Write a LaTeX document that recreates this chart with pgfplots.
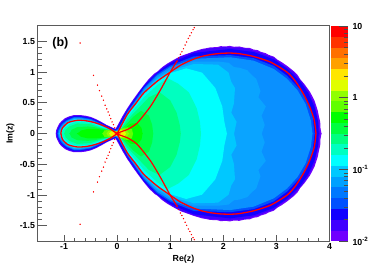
\documentclass[border=0pt]{standalone}
\usepackage{fontspec}
\setmainfont{Liberation Sans}
\usepackage{pgfplots}
\usepackage{pgfplotstable}
\pgfplotsset{compat=1.18}
\definecolor{axg}{HTML}{5A5A5A}
% upper-half outlines of the density levels (Re Im)
\pgfplotstableread[row sep=\\]{x y\\ -1.155 0\\ -1.15 .06\\ -1.12 .12\\ -1.09 .17\\ -1.05 .21\\ -.98 .26\\ -.9 .29\\ -.81 .31\\ -.7 .31\\ -.6 .3\\ -.5 .28\\ -.4 .245\\ -.3 .2\\ -.2 .15\\ -.1 .11\\ -.03 .085\\ 0 .13\\ .05 .21\\ .1 .29\\ .19 .42\\ .3 .56\\ .4 .68\\ .505 .8\\ .6 .9\\ .7 .985\\ .757 1.016\\ .85 1.09\\ .95 1.15\\ 1.07 1.21\\ 1.2 1.27\\ 1.3 1.3\\ 1.445 1.345\\ 1.6 1.385\\ 1.7 1.4\\ 1.75 1.41\\ 1.885 1.415\\ 1.95 1.43\\ 2.05 1.425\\ 2.12 1.435\\ 2.2 1.42\\ 2.3 1.425\\ 2.4 1.405\\ 2.5 1.4\\ 2.57 1.375\\ 2.65 1.365\\ 2.7 1.34\\ 2.8 1.315\\ 2.85 1.29\\ 2.95 1.26\\ 3.02 1.21\\ 3.1 1.17\\ 3.2 1.11\\ 3.26 1.07\\ 3.325 1.025\\ 3.4 .96\\ 3.45 .89\\ 3.53 .81\\ 3.58 .75\\ 3.63 .69\\ 3.68 .61\\ 3.72 .54\\ 3.75 .46\\ 3.78 .38\\ 3.8 .29\\ 3.825 .2\\ 3.83 .1\\ 3.85 0\\}\tA
\pgfplotstableread[row sep=\\]{x y\\ -1.145 0\\ -1.14 .06\\ -1.11 .115\\ -1.08 .163\\ -1.04 .203\\ -.97 .25\\ -.9 .28\\ -.81 .3\\ -.7 .3\\ -.6 .29\\ -.5 .27\\ -.4 .235\\ -.3 .19\\ -.2 .142\\ -.1 .102\\ -.03 .078\\ .005 .12\\ .055 .2\\ .105 .28\\ .195 .41\\ .305 .55\\ .405 .67\\ .51 .79\\ .605 .89\\ .705 .975\\ .765 1.005\\ .855 1.08\\ .955 1.14\\ 1.07 1.198\\ 1.2 1.26\\ 1.3 1.29\\ 1.445 1.335\\ 1.6 1.37\\ 1.75 1.395\\ 1.885 1.4\\ 2 1.415\\ 2.2 1.405\\ 2.3 1.405\\ 2.45 1.39\\ 2.57 1.355\\ 2.7 1.325\\ 2.82 1.28\\ 2.95 1.245\\ 3.05 1.17\\ 3.2 1.085\\ 3.325 1.005\\ 3.45 .875\\ 3.5 .825\\ 3.6 .7\\ 3.65 .61\\ 3.72 .49\\ 3.74 .39\\ 3.79 .21\\ 3.805 .1\\ 3.82 0\\}\tB
\pgfplotstableread[row sep=\\]{x y\\ -1.135 0\\ -1.125 .06\\ -1.095 .112\\ -1.06 .17\\ -.965 .24\\ -.81 .292\\ -.7 .292\\ -.5 .262\\ -.4 .228\\ -.3 .183\\ -.2 .136\\ -.1 .097\\ -.03 .072\\ .01 .108\\ .198 .4\\ .505 .785\\ .757 1.003\\ 1 1.15\\ 1.445 1.32\\ 2.13 1.385\\ 2.57 1.335\\ 2.95 1.215\\ 3.2 1.065\\ 3.45 .855\\ 3.6 .665\\ 3.72 .435\\ 3.785 .2\\ 3.795 0\\}\tC
\pgfplotstableread[row sep=\\]{x y\\ -1.125 0\\ -1.115 .06\\ -1.085 .11\\ -1.04 .17\\ -.955 .228\\ -.81 .28\\ -.7 .28\\ -.5 .25\\ -.4 .215\\ -.3 .17\\ -.2 .125\\ -.1 .085\\ -.03 .06\\ .02 .095\\ .2 .38\\ .505 .76\\ .757 .98\\ 1 1.115\\ 1.445 1.265\\ 2.13 1.285\\ 2.57 1.235\\ 2.95 1.11\\ 3.2 .95\\ 3.45 .72\\ 3.6 .5\\ 3.68 .3\\ 3.72 0\\}\tD
\pgfplotstableread[row sep=\\]{x y\\ -1.11 0\\ -1.1 .055\\ -1.07 .105\\ -1.03 .155\\ -.95 .215\\ -.81 .267\\ -.7 .267\\ -.5 .237\\ -.4 .2\\ -.3 .16\\ -.2 .115\\ -.1 .075\\ -.03 .05\\ .03 .085\\ .2 .36\\ .505 .735\\ .757 .955\\ 1 1.09\\ 1.445 1.225\\ 2.13 1.25\\ 2.57 1.195\\ 2.95 1.06\\ 3.2 .9\\ 3.4 .71\\ 3.55 .49\\ 3.65 .22\\ 3.68 0\\}\tE
\pgfplotstableread[row sep=\\]{x y\\ -1.1 0\\ -1.09 .053\\ -1.06 .1\\ -1.02 .145\\ -.95 .205\\ -.81 .257\\ -.7 .257\\ -.5 .227\\ -.4 .19\\ -.3 .15\\ -.2 .105\\ -.1 .066\\ -.03 .042\\ .035 .07\\ .2 .345\\ .505 .71\\ .757 .925\\ 1 1.055\\ 1.445 1.18\\ 1.9 1.18\\ 2.1 1.16\\ 2.2 1.09\\ 2.3 1.08\\ 2.45 1.04\\ 2.55 .95\\ 2.62 .9\\ 2.7 .7\\ 2.66 .6\\ 2.8 .45\\ 2.72 .3\\ 2.78 .15\\ 2.72 0\\}\tEa
\pgfplotstableread[row sep=\\]{x y\\ -1.09 0\\ -1.08 .05\\ -1.05 .095\\ -1.01 .14\\ -.95 .195\\ -.81 .247\\ -.7 .247\\ -.5 .217\\ -.4 .18\\ -.3 .14\\ -.2 .097\\ -.1 .06\\ -.03 .036\\ .04 .06\\ .19 .33\\ .505 .695\\ .757 .905\\ 1 1.03\\ 1.445 1.14\\ 1.9 1.13\\ 2.1 1\\ 2.15 .85\\ 2.22 .75\\ 2.2 .5\\ 2.15 .35\\ 2.25 .2\\ 2.2 0\\}\tF
\pgfplotstableread[row sep=\\]{x y\\ -1.08 0\\ -1.07 .045\\ -1.04 .09\\ -1 .13\\ -.95 .18\\ -.81 .235\\ -.7 .235\\ -.5 .207\\ -.4 .17\\ -.3 .13\\ -.2 .09\\ -.1 .055\\ -.03 .03\\ .04 .05\\ .19 .31\\ .505 .67\\ .757 .86\\ 1 .99\\ 1.3 1.07\\ 1.6 1\\ 1.85 .75\\ 1.98 .45\\ 2.02 .2\\ 2.07 0\\}\tG
\pgfplotstableread[row sep=\\]{x y\\ -1.05 0\\ -1.03 .05\\ -.98 .105\\ -.9 .16\\ -.75 .205\\ -.5 .185\\ -.4 .15\\ -.3 .115\\ -.2 .085\\ -.1 .052\\ -.03 .03\\ .05 .05\\ .19 .27\\ .505 .6\\ .757 .8\\ .95 .91\\ 1.15 .82\\ 1.35 .68\\ 1.5 .42\\ 1.56 .2\\ 1.58 0\\}\tH
\pgfplotstableread[row sep=\\]{x y\\ -1 0\\ -.97 .07\\ -.9 .125\\ -.75 .175\\ -.5 .16\\ -.4 .13\\ -.3 .105\\ -.2 .08\\ -.1 .05\\ -.03 .03\\ .05 .05\\ .19 .23\\ .4 .42\\ .6 .6\\ .8 .68\\ 1 .55\\ 1.12 .35\\ 1.18 .15\\ 1.2 0\\}\tI
\pgfplotstableread[row sep=\\]{x y\\ -.9 0\\ -.86 .07\\ -.75 .115\\ -.55 .125\\ -.4 .11\\ -.3 .09\\ -.2 .075\\ -.1 .05\\ -.03 .03\\ .05 .045\\ .15 .14\\ .3 .28\\ .45 .38\\ .6 .3\\ .66 .15\\ .68 0\\}\tJ
\pgfplotstableread[row sep=\\]{x y\\ -.76 0\\ -.68 .06\\ -.55 .085\\ -.4 .085\\ -.25 .07\\ -.1 .05\\ -.03 .03\\ .05 .04\\ .12 .08\\ .25 .17\\ .38 .18\\ .46 .1\\ .48 0\\}\tK
\pgfplotstableread[row sep=\\]{x y\\ -.28 0\\ -.24 .06\\ -.15 .07\\ -.05 .05\\ 0 .04\\ .1 .1\\ .2 .11\\ .28 .08\\ .3 0\\}\tL
\pgfplotstableread[row sep=\\]{x y\\ -.2 0\\ -.17 .05\\ -.08 .055\\ 0 .04\\ .08 .08\\ .17 .07\\ .23 0\\}\tM
\pgfplotstableread[row sep=\\]{x y\\ -.15 0\\ -.12 .045\\ -.05 .045\\ 0 .035\\ .07 .07\\ .14 .05\\ .17 0\\}\tN
\pgfplotstableread[row sep=\\]{x y\\ -.1 0\\ -.07 .04\\ 0 .03\\ .06 .055\\ .1 .03\\ .12 0\\}\tO
\pgfplotstableread[row sep=\\]{x y\\ -.055 0\\ -.02 .03\\ .03 .04\\ .06 .02\\ .07 0\\}\tP
\pgfplotstableread[row sep=\\]{x y\\ -.04 0\\ 0 .03\\ .04 .02\\ .05 0\\}\tQ
\pgfplotstableread[row sep=\\]{x y\\ -.03 0\\ 0 .025\\ .03 .015\\ .035 0\\}\tR
\pgfplotstableread[row sep=\\]{x y\\ -.02 0\\ 0 .02\\ .02 .01\\ .02 0\\}\tS
% red curves
\pgfplotstableread[row sep=\\]{x y\\ 0 0\\ -.12 .07\\ -.246 .125\\ -.37 .165\\ -.496 .195\\ -.62 .213\\ -.746 .217\\ -.85 .2\\ -.934 .175\\ -1.03 .093\\ -1.06 .01\\ -1.03 -.093\\ -.934 -.175\\ -.85 -.2\\ -.746 -.217\\ -.62 -.213\\ -.496 -.195\\ -.37 -.165\\ -.246 -.125\\ -.12 -.07\\ 0 0\\}\redL
\pgfplotstableread[row sep=\\]{x y\\ 0 0\\ .19 .31\\ .35 .49\\ .505 .664\\ .757 .853\\ 1 1\\ 1.19 1.11\\ 1.38 1.19\\ 1.57 1.25\\ 1.76 1.285\\ 1.95 1.305\\ 2.13 1.31\\ 2.3 1.3\\ 2.57 1.255\\ 2.89 1.163\\ 3.2 1\\ 3.36 .85\\ 3.52 .63\\ 3.63 .43\\ 3.71 .228\\ 3.745 0\\ 3.71 -.228\\ 3.63 -.43\\ 3.52 -.63\\ 3.36 -.85\\ 3.2 -1\\ 2.89 -1.163\\ 2.57 -1.255\\ 2.3 -1.3\\ 2.13 -1.31\\ 1.95 -1.305\\ 1.76 -1.285\\ 1.57 -1.25\\ 1.38 -1.19\\ 1.19 -1.11\\ 1 -1\\ .757 -.853\\ .505 -.664\\ .35 -.49\\ .19 -.31\\ 0 0\\}\redR
\pgfplotstableread[row sep=\\]{x y\\ 1.13 1.18\\ 1 1\\ .82 .717\\ .63 .445\\ .38 .175\\ .2 .07\\ 0 0\\ .2 -.07\\ .38 -.175\\ .63 -.445\\ .82 -.717\\ 1 -1\\ 1.13 -1.18\\}\redI
\pgfplotstableread[row sep=\\]{x y\\ 1.13 1.18\\ 1.16 1.23\\ 1.19 1.29\\ 1.22 1.33\\ 1.25 1.38\\ 1.28 1.44\\ 1.31 1.49\\ 1.34 1.55\\ 1.37 1.59\\ 1.40 1.64\\ 1.43 1.69\\ 1.453 1.724\\ 1.13 -1.18\\ 1.16 -1.23\\ 1.19 -1.29\\ 1.22 -1.33\\ 1.25 -1.38\\ 1.28 -1.44\\ 1.31 -1.49\\ 1.34 -1.55\\ 1.37 -1.59\\ 1.40 -1.64\\ 1.43 -1.69\\ 1.453 -1.724\\ -.697 1.473\\ -.445 .946\\ -.37 .788\\ -.333 .70\\ -.29 .609\\ -.258 .544\\ -.227 .462\\ -.195 .402\\ -.17 .353\\ -.145 .30\\ -.12 .245\\ -.096 .19\\ -.07 .147\\ -.045 .093\\ -.697 -1.473\\ -.445 -.946\\ -.37 -.788\\ -.333 -.70\\ -.29 -.609\\ -.258 -.544\\ -.227 -.462\\ -.195 -.402\\ -.17 -.353\\ -.145 -.30\\ -.12 -.245\\ -.096 -.19\\ -.07 -.147\\ -.045 -.093\\}\redD
\newcommand\band[2]{%
 \addplot[fill=#1,draw=none,forget plot] table[x=x,y expr=\thisrow{y}-.008] {#2};
 \addplot[fill=#1,draw=none,forget plot] table[x=x,y expr=-\thisrow{y}+.008] {#2};
}
\newcommand\cbar[3]{\addplot[fill=#1,draw=none,forget plot] coordinates {(0,#2)(1,#2)(1,#3)(0,#3)};}
\definecolor{c01}{HTML}{7000FF}
\definecolor{c02}{HTML}{4000FF}
\definecolor{c03}{HTML}{1000FF}
\definecolor{c04}{HTML}{0050FF}
\definecolor{c05}{HTML}{0078FF}
\definecolor{c06}{HTML}{00A0FF}
\definecolor{c07}{HTML}{00C8FF}
\definecolor{c08}{HTML}{00FFFF}
\definecolor{c09}{HTML}{00FFC0}
\definecolor{c10}{HTML}{00FF80}
\definecolor{c11}{HTML}{00FF40}
\definecolor{c12}{HTML}{00FF00}
\definecolor{c13}{HTML}{60FF00}
\definecolor{c14}{HTML}{90FF00}
\definecolor{c15}{HTML}{E0FF00}
\definecolor{c16}{HTML}{FFE600}
\definecolor{c17}{HTML}{FFA000}
\definecolor{c18}{HTML}{FF7000}
\definecolor{c19}{HTML}{FF3300}
\definecolor{c20}{HTML}{FF0000}
\definecolor{cdp}{HTML}{0A90FF}
\definecolor{cea}{HTML}{0AA4FF}
\begin{document}
\begin{tikzpicture}
\path[use as bounding box] (-37.5pt,-26.7pt) rectangle (336.5pt,241.3pt);
\begin{axis}[at={(0pt,0pt)},anchor=south west,scale only axis,width=292pt,height=215.3pt,
 xmin=-1.5,xmax=4,ymin=-1.75,ymax=1.75,
 axis line style={axg,line width=1pt},
 xtick={-1,0,1,2,3,4},xticklabels={-1,0,1,2,3,4},
 ytick={-1.5,-1,-.5,0,.5,1,1.5},yticklabels={-1.5,-1,-0.5,0,0.5,1,1.5},
 minor x tick num=4,minor y tick num=4,
 xtick pos=bottom,ytick pos=left,tick align=inside,
 tick style={axg,line width=1pt},
 xtick style={/pgfplots/major tick length=6pt,/pgfplots/minor tick length=3pt},
 ytick style={/pgfplots/major tick length=9pt,/pgfplots/minor tick length=4.5pt},
 tick label style={font=\bfseries\fontsize{8.8}{9}\selectfont},
 xticklabel style={yshift=1pt},
 yticklabel style={xshift=1pt},
 xlabel={\bfseries\fontsize{8.8}{9}\selectfont Re(z)},
 xlabel style={at={(axis description cs:0.5,0)},anchor=north,yshift=-10.5pt},
 ylabel={\bfseries\fontsize{8.8}{9}\selectfont Im(z)},
 ylabel style={at={(axis description cs:0,0.5)},anchor=south,yshift=19.5pt},
 axis on top,clip=true]
\band{c01}{\tA}
\band{c02}{\tB}
\band{c03}{\tC}
\band{c04}{\tD}
\band{cdp}{\tE}
\band{cea}{\tEa}
\band{c07}{\tF}
\band{c08}{\tG}
\band{c09}{\tH}
\band{c10}{\tI}
\band{c11}{\tJ}
\band{c12}{\tK}
\band{c13}{\tL}
\band{c14}{\tM}
\band{c15}{\tN}
\band{c16}{\tO}
\band{c17}{\tP}
\band{c18}{\tQ}
\band{c19}{\tR}
\band{c20}{\tS}
\addplot[red,line width=1.3pt,smooth,tension=.4,forget plot] table[x=x,y=y] {\redL};
\addplot[red,line width=1.3pt,smooth,tension=.4,forget plot] table[x=x,y=y] {\redR};
\addplot[red,line width=1.2pt,smooth,tension=.4,forget plot] table[x=x,y=y] {\redI};
\addplot[only marks,mark=*,mark size=.45pt,red,forget plot] table[x=x,y=y] {\redD};
\node[font=\bfseries\fontsize{12.5}{13}\selectfont,anchor=center] at (axis cs:-1.07,1.47) {(b)};
\end{axis}
\begin{axis}[at={(293.5pt,0pt)},anchor=south west,scale only axis,width=17pt,height=215.3pt,
 xmin=0,xmax=1,ymode=log,ymin=.01,ymax=10,
 xtick=\empty,
 ytick={.01,.1,1,10},yticklabels={10\textsuperscript{-2},10\textsuperscript{-1},1,10},
 ytick pos=right,tick align=inside,
 axis line style={draw=none},
 tick style={black!70,line width=.6pt},
 ytick style={/pgfplots/major tick length=9pt,/pgfplots/minor tick length=4.5pt},
 yticklabel style={font=\bfseries\fontsize{8.8}{9}\selectfont,xshift=1pt},
 axis on top,clip=true]
\cbar{c01}{.01}{.01413}
\cbar{c02}{.01413}{.01995}
\cbar{c03}{.01995}{.02818}
\cbar{c04}{.02818}{.03981}
\cbar{c05}{.03981}{.05623}
\cbar{c06}{.05623}{.07943}
\cbar{c07}{.07943}{.1122}
\cbar{c08}{.1122}{.1585}
\cbar{c09}{.1585}{.2239}
\cbar{c10}{.2239}{.3162}
\cbar{c11}{.3162}{.4467}
\cbar{c12}{.4467}{.631}
\cbar{c13}{.631}{.8913}
\cbar{c14}{.8913}{1.259}
\cbar{c15}{1.259}{1.778}
\cbar{c16}{1.778}{2.512}
\cbar{c17}{2.512}{3.548}
\cbar{c18}{3.548}{5.012}
\cbar{c19}{5.012}{7.079}
\cbar{c20}{7.079}{10}
\end{axis}
\end{tikzpicture}
\end{document}
